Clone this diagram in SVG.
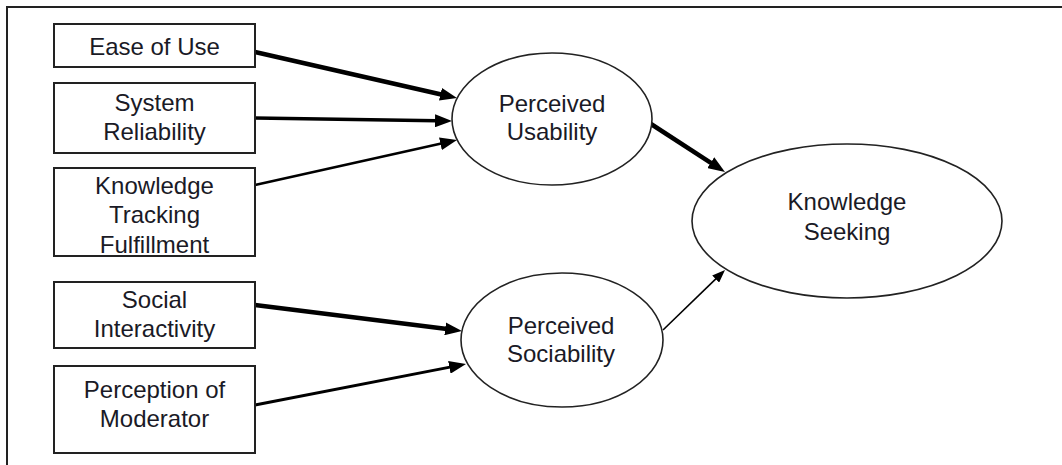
<svg xmlns="http://www.w3.org/2000/svg" width="1062" height="465" viewBox="0 0 1062 465">
<style>
.frame{fill:none;stroke:#222;stroke-width:2}
.box{fill:#fff;stroke:#222;stroke-width:2}
.ell{fill:#fff;stroke:#222;stroke-width:1.6}
.lbl{font-family:"Liberation Sans",Arial,sans-serif;font-size:24px;fill:#1a1a26;text-anchor:middle}
.con{fill:none;stroke:#000}
</style>
<defs>
<marker id="ah" markerUnits="userSpaceOnUse" markerWidth="17" markerHeight="13" refX="2" refY="6.5" orient="auto">
<path d="M0,0 L17,6.5 L0,13 z" fill="#000"/>
</marker>
<marker id="ahs" markerUnits="userSpaceOnUse" markerWidth="13" markerHeight="10" refX="2" refY="5" orient="auto">
<path d="M0,0 L13,5 L0,10 z" fill="#000"/>
</marker>
</defs>
<rect width="1062" height="465" fill="#fff"/>
<path class="frame" d="M7,465 L7,7 L1062,7"/>
<g id="connectors">
<line class="con" x1="255" y1="52" x2="442.4" y2="94.7" stroke-width="4.5" marker-end="url(#ah)"/>
<line class="con" x1="255" y1="118" x2="437" y2="120.8" stroke-width="3.5" marker-end="url(#ah)"/>
<line class="con" x1="255" y1="185" x2="442.4" y2="143.3" stroke-width="2.5" marker-end="url(#ah)"/>
<line class="con" x1="255" y1="305" x2="447.1" y2="329.1" stroke-width="4.5" marker-end="url(#ah)"/>
<line class="con" x1="255" y1="405" x2="451.3" y2="366.9" stroke-width="3" marker-end="url(#ah)"/>
<line class="con" x1="651" y1="124" x2="712.4" y2="163.8" stroke-width="4.5" marker-end="url(#ah)"/>
<line class="con" x1="663" y1="330" x2="717.1" y2="277.6" stroke-width="1.6" marker-end="url(#ahs)"/>
</g>
<g id="ease-of-use">
<rect class="box" x="54" y="24" width="201" height="43"/>
<text class="lbl" x="154.5" y="55">Ease of Use</text>
</g>
<g id="system-reliability">
<rect class="box" x="54" y="83" width="201" height="70"/>
<text class="lbl" x="154.5" y="111">System</text>
<text class="lbl" x="154.5" y="140">Reliability</text>
</g>
<g id="knowledge-tracking-fulfillment">
<rect class="box" x="54" y="168" width="201" height="88"/>
<text class="lbl" x="154.5" y="194">Knowledge</text>
<text class="lbl" x="154.5" y="223">Tracking</text>
<text class="lbl" x="154.5" y="253">Fulfillment</text>
</g>
<g id="social-interactivity">
<rect class="box" x="54" y="282" width="201" height="66"/>
<text class="lbl" x="154.5" y="308">Social</text>
<text class="lbl" x="154.5" y="337">Interactivity</text>
</g>
<g id="perception-of-moderator">
<rect class="box" x="54" y="366" width="201" height="87"/>
<text class="lbl" x="154.5" y="398">Perception of</text>
<text class="lbl" x="154.5" y="427">Moderator</text>
</g>
<g id="perceived-usability">
<ellipse class="ell" cx="552" cy="119" rx="100" ry="66"/>
<text class="lbl" x="552" y="112">Perceived</text>
<text class="lbl" x="552" y="140">Usability</text>
</g>
<g id="perceived-sociability">
<ellipse class="ell" cx="562" cy="340" rx="101" ry="67"/>
<text class="lbl" x="561" y="334">Perceived</text>
<text class="lbl" x="561" y="362">Sociability</text>
</g>
<g id="knowledge-seeking">
<ellipse class="ell" cx="847" cy="221" rx="155" ry="77"/>
<text class="lbl" x="847" y="210">Knowledge</text>
<text class="lbl" x="847" y="240">Seeking</text>
</g>
</svg>
